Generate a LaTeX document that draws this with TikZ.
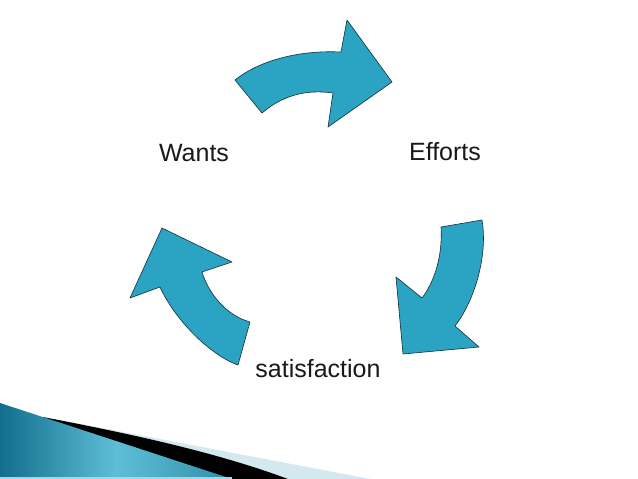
\documentclass[tikz,border=0pt]{standalone}
\usepackage{fontspec}
\setmainfont{Liberation Sans}
\definecolor{bendfill}{RGB}{42,164,194}
\definecolor{bendline}{RGB}{20,45,55}
\definecolor{tealdark}{RGB}{18,110,140}
\definecolor{teallight}{RGB}{95,190,215}
\definecolor{paleblue}{RGB}{212,232,240}

\begin{document}
\begin{tikzpicture}[x=1pt, y=-1pt,
        bentarrow/.style={fill=bendfill, draw=bendline, line width=0.6pt, line join=round},
        word/.style={anchor=base, text=black!90, font=\fontsize{25}{30}\selectfont, inner sep=0pt}
    ]
  \useasboundingbox (0,0) rectangle (638,479);
  \fill[white] (0,0) rectangle (638,479);

  %%% Three bent arrows
  % Top: Wants to Efforts
  \draw[bentarrow] (235,80) .. controls (260,60) and (300,50) .. (341,52)
    -- (347,20) -- (392,82) -- (328,127) -- (333,93)
    .. controls (305,89) and (282,96) .. (262,113) -- cycle;
  % Right: Efforts to satisfaction
  \draw[bentarrow] (441,227) -- (482,220)
    .. controls (488,255) and (475,300) .. (455,326)
    -- (479,347) -- (403,354) -- (396,277) -- (422,298)
    .. controls (432,285) and (443,260) .. (441,227) -- cycle;
  % Left: satisfaction to Wants
  \draw[bentarrow] (162,228) -- (232,262) -- (202,272)
    .. controls (208,292) and (225,315) .. (250,322)
    -- (238,365) .. controls (210,355) and (175,320) .. (160,287)
    -- (130,298) -- cycle;

  %%% Labels
  \foreach \name/\x/\y/\txt in {wants/194/161/Wants, efforts/445/160/Efforts,
      satisfaction/318/377/satisfaction}
    \node[word] (\name) at (\x,\y) {\txt};

  %%% Corner swoosh
  \fill[paleblue] (60,420) -- (370,479) -- (60,479) -- cycle;
  \fill[black] (43,417) .. controls (120,432) and (210,450) .. (288,479) -- (0,479) -- cycle;
  \shade[left color=tealdark, right color=tealdark!60!teallight, middle color=teallight]
    (0,403) -- (232,479) -- (0,479) -- cycle;
  \fill[teallight!60!white] (0,476.5) rectangle (232,479);
\end{tikzpicture}
\end{document}
